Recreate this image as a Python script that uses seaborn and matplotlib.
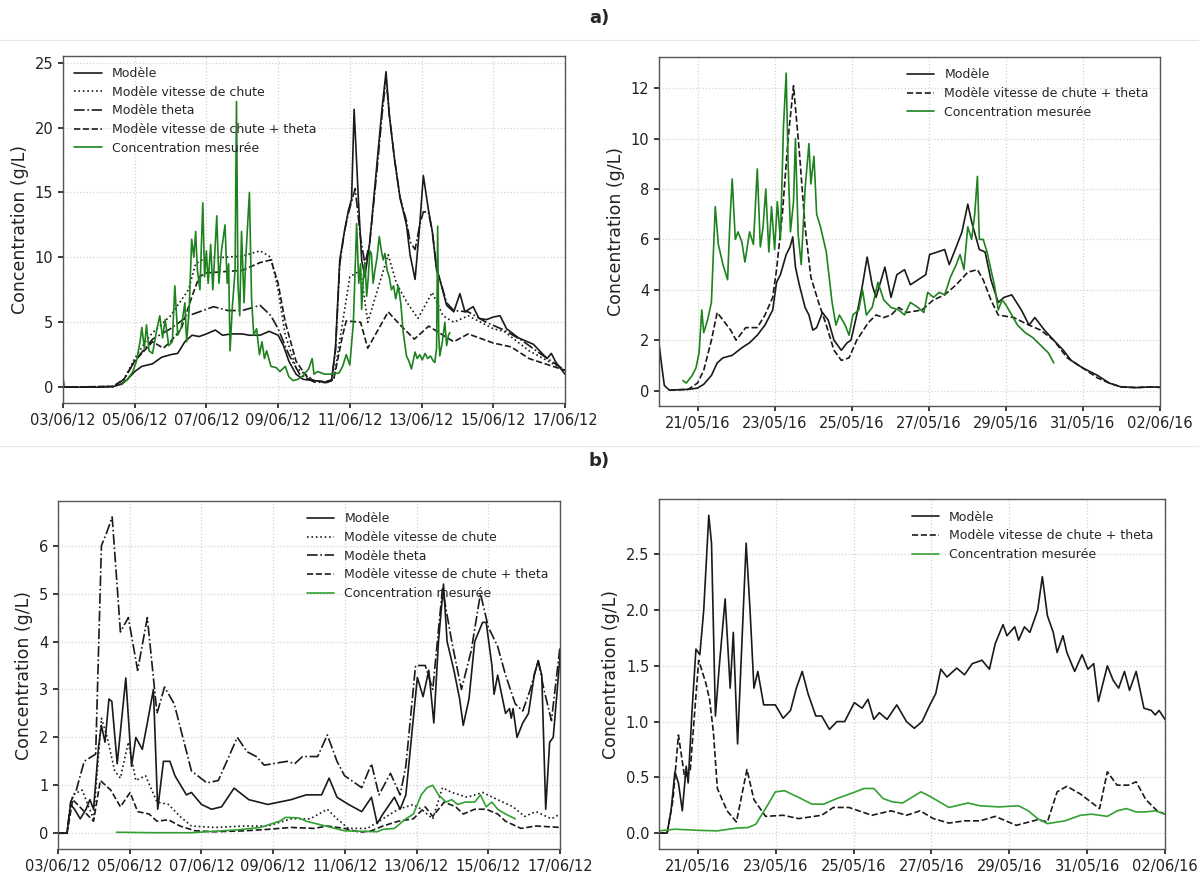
import matplotlib
matplotlib.use("Agg")
import matplotlib.pyplot as plt
import matplotlib.dates as mdates
from matplotlib.lines import Line2D
import pandas as pd
import seaborn as sns

# ---- data (time in days since the first date of each panel, values in g/L) ----
# a) left : 03/06/12 -> 17/06/12
tl_model_t = [0, 0.03, 0.1, 1.0, 1.4, 1.6, 1.8, 2.0, 2.2, 2.5, 2.75, 3.0, 3.2, 3.4, 3.6, 3.8, 4.0, 4.25, 4.45, 4.7,
              5.0, 5.2, 5.5, 5.75, 6.0, 6.15, 6.3, 6.5, 6.7, 7.0, 7.2, 7.35, 7.49, 7.6, 7.72, 7.85, 7.96, 8.05, 8.12, 8.24,
              8.33, 8.42, 8.55, 8.75, 8.9, 9.01, 9.1, 9.25, 9.4, 9.58, 9.68, 9.82, 9.95, 10.05, 10.19, 10.3, 10.42, 10.51,
              10.7, 10.9, 11.07, 11.21, 11.44, 11.6, 11.81, 12.0, 12.19, 12.37, 12.7, 13.12, 13.5, 13.62, 13.75, 14.0]
tl_model_v = [0.8, 0.0, 0.0, 0.0, 0.05, 0.2, 0.6, 1.2, 1.6, 1.8, 2.3, 2.5, 2.6, 3.5, 4.0, 3.9, 4.1, 4.4, 4.0, 4.1,
              4.1, 4.0, 4.0, 4.3, 4.0, 3.2, 2.0, 1.0, 0.6, 0.5, 0.45, 0.35, 0.5, 3.0, 9.8, 12.0, 13.6, 14.5, 21.4, 14.4,
              9.8, 8.5, 11.0, 17.0, 21.5, 24.3, 21.0, 17.5, 14.6, 12.5, 10.2, 8.3, 12.5, 16.3, 13.7, 12.0, 9.0, 8.3,
              6.3, 5.8, 7.2, 5.8, 6.2, 5.3, 5.2, 5.4, 5.5, 4.5, 3.8, 3.3, 2.2, 2.6, 1.9, 1.0]

tl_speed_t = [0, 1.4, 1.7, 2.0, 2.3, 2.5, 3.0, 3.5, 3.7, 4.0, 4.5, 5.0, 5.5, 5.8, 6.0, 6.2, 6.5, 7.0, 7.3, 7.55,
              7.8, 8.0, 8.3, 8.5, 9.07, 9.3, 9.6, 9.9, 10.3, 10.6, 10.9, 11.3, 12.0, 12.3, 13.0, 14.0]
tl_speed_v = [0, 0.05, 0.6, 2.2, 3.5, 4.2, 5.5, 7.5, 9.5, 10.0, 10.0, 10.1, 10.5, 10.0, 7.5, 4.0, 1.5, 0.5, 0.4, 0.6,
              5.0, 8.5, 9.0, 5.0, 10.2, 8.0, 6.5, 5.3, 7.3, 5.5, 5.0, 5.5, 4.5, 4.3, 2.8, 1.3]

tl_theta_t = [0, 1.4, 1.7, 2.0, 2.5, 3.0, 3.5, 4.0, 4.2, 4.6, 5.0, 5.5, 5.8, 6.0, 6.3, 6.6, 7.0, 7.3, 7.49, 7.6,
              7.72, 7.85, 7.96, 8.05, 8.15, 8.3, 8.42, 8.55, 8.75, 8.9, 9.01, 9.1, 9.25, 9.4, 9.58, 9.68, 9.82, 9.95,
              10.05, 10.19, 10.3, 10.42, 10.51, 10.7, 10.9, 11.3, 11.8, 12.3, 12.8, 13.3, 14.0]
tl_theta_v = [0, 0.05, 0.6, 2.0, 3.7, 4.5, 5.5, 6.0, 6.2, 5.9, 5.9, 6.3, 5.5, 4.5, 2.5, 1.0, 0.4, 0.35, 0.5, 2.8,
              9.5, 12.0, 13.4, 14.3, 15.3, 11.5, 9.5, 11.0, 16.5, 21.0, 23.8, 21.0, 17.5, 14.6, 12.8, 11.2, 10.6, 12.5,
              13.5, 13.5, 12.0, 9.2, 8.3, 6.5, 5.9, 5.8, 5.0, 4.4, 3.6, 2.6, 1.3]

tl_both_t = [0, 1.4, 1.7, 2.0, 2.5, 2.8, 3.0, 3.3, 3.6, 3.8, 4.0, 5.0, 5.5, 5.8, 6.0, 6.2, 6.5, 6.8, 7.0, 7.3,
             7.55, 7.8, 7.9, 8.3, 8.5, 9.07, 9.4, 9.8, 10.2, 10.6, 10.9, 11.3, 12.0, 12.5, 13.0, 14.0]
tl_both_v = [0, 0.05, 0.6, 2.0, 3.5, 3.0, 3.5, 4.5, 7.0, 8.5, 8.8, 9.0, 9.6, 9.8, 8.0, 5.0, 2.0, 0.8, 0.5, 0.4,
             0.6, 4.0, 5.1, 5.0, 3.0, 5.8, 4.8, 3.7, 4.7, 4.0, 3.5, 4.1, 3.4, 3.1, 2.2, 1.3]

tl_meas_t = [1.64, 1.8, 1.95, 2.05, 2.15, 2.2, 2.27, 2.33, 2.4, 2.5, 2.6, 2.7, 2.78, 2.85, 2.95, 3.05, 3.12, 3.2,
             3.3, 3.4, 3.45, 3.52, 3.59, 3.65, 3.7, 3.75, 3.82, 3.9, 3.95, 4.0, 4.05, 4.12, 4.18, 4.29, 4.35, 4.42,
             4.52, 4.58, 4.62, 4.66, 4.72, 4.8, 4.84, 4.88, 4.93, 4.98, 5.05, 5.1, 5.2, 5.26, 5.32, 5.4, 5.48, 5.55,
             5.62, 5.68, 5.8, 5.95, 6.05, 6.2, 6.3, 6.42, 6.55, 6.7, 6.85, 6.95, 7.0, 7.1, 7.3, 7.5, 7.7, 7.8, 7.9,
             8.0, 8.1, 8.19, 8.25, 8.3, 8.33, 8.38, 8.42, 8.47, 8.51, 8.56, 8.6, 8.65, 8.7, 8.76, 8.82, 8.88, 8.93,
             8.98, 9.04, 9.1, 9.16, 9.22, 9.28, 9.35, 9.42, 9.49, 9.58, 9.65, 9.72, 9.78, 9.82, 9.88, 9.95, 10.02,
             10.1, 10.17, 10.25, 10.33, 10.37, 10.42, 10.45, 10.48, 10.51, 10.58, 10.65, 10.7, 10.75, 10.79]
tl_meas_v = [0.2, 0.6, 1.2, 2.0, 3.5, 4.6, 3.0, 4.8, 2.8, 2.6, 4.2, 5.5, 3.8, 5.2, 3.2, 3.5, 7.8, 4.0,
             4.6, 6.5, 3.5, 6.0, 11.4, 10.0, 12.0, 9.0, 7.5, 14.2, 8.5, 10.5, 8.0, 11.0, 7.5, 13.2, 8.0, 10.5,
             12.5, 8.0, 9.5, 2.8, 6.0, 9.0, 22.0, 8.0, 5.5, 12.0, 6.5, 10.0, 15.0, 6.8, 4.0, 4.5, 2.5, 3.5,
             2.2, 2.8, 1.6, 1.5, 1.2, 1.6, 0.8, 0.5, 0.6, 0.9, 1.4, 2.2, 1.0, 1.2, 1.0, 1.0, 1.1, 1.6, 2.5,
             1.7, 5.0, 12.6, 8.0, 9.5, 6.0, 8.5, 9.6, 7.0, 8.3, 10.5, 10.3, 8.0, 9.0, 10.0, 11.6, 10.5, 9.8,
             10.3, 9.0, 8.5, 7.5, 7.8, 6.8, 7.8, 6.5, 4.2, 2.4, 2.0, 1.4, 2.2, 2.7, 2.2, 2.5, 2.1,
             2.6, 2.2, 2.4, 2.0, 1.9, 3.0, 12.4, 4.0, 2.4, 3.5, 5.0, 3.2, 4.0, 4.2]

# a) right : 20/05/16 -> 02/06/16
tr_model_t = [0, 0.07, 0.14, 0.27, 0.76, 1.0, 1.16, 1.36, 1.51, 1.66, 1.9, 2.15, 2.35, 2.55, 2.75, 2.95, 3.05, 3.15,
              3.3, 3.4, 3.47, 3.54, 3.64, 3.79, 3.89, 3.99, 4.09, 4.24, 4.39, 4.54, 4.73, 4.88, 4.98, 5.13, 5.28, 5.4,
              5.53, 5.63, 5.86, 6.02, 6.17, 6.37, 6.52, 6.72, 6.92, 7.02, 7.22, 7.41, 7.53, 7.71, 7.86, 8.01, 8.11,
              8.31, 8.46, 8.61, 8.8, 8.95, 9.15, 9.4, 9.6, 9.75, 10.0, 10.24, 10.49, 10.69, 10.99, 11.38, 11.68,
              11.98, 12.38, 12.77, 13.0]
tr_model_v = [1.9, 1.0, 0.2, 0.02, 0.05, 0.1, 0.25, 0.6, 1.1, 1.3, 1.4, 1.7, 1.9, 2.2, 2.6, 3.2, 4.3, 4.6,
              5.4, 5.7, 6.1, 4.9, 4.2, 3.3, 3.0, 2.4, 2.5, 3.1, 2.8, 2.0, 1.6, 1.9, 2.0, 3.0, 4.2, 5.3,
              4.2, 3.7, 4.9, 3.7, 4.6, 4.8, 4.2, 4.4, 4.6, 5.4, 5.5, 5.6, 5.0, 5.7, 6.3, 7.4, 6.7,
              5.6, 5.5, 4.4, 3.5, 3.7, 3.8, 3.2, 2.6, 2.9, 2.4, 2.0, 1.6, 1.2, 0.9, 0.6, 0.3,
              0.15, 0.12, 0.15, 0.13]

tr_both_t = [0.27, 0.76, 1.0, 1.16, 1.36, 1.51, 1.66, 1.86, 2.0, 2.25, 2.55, 2.75, 2.95, 3.05, 3.2, 3.35, 3.49,
             3.64, 3.79, 3.94, 4.14, 4.34, 4.54, 4.73, 4.93, 5.13, 5.43, 5.63, 5.83, 6.02, 6.22, 6.42, 6.82, 7.12,
             7.41, 7.71, 8.01, 8.26, 8.41, 8.61, 8.8, 9.2, 9.6, 9.9, 10.24, 10.59, 10.99, 11.38, 11.68, 11.98,
             12.38, 12.77, 13.0]
tr_both_v = [0.02, 0.05, 0.3, 0.8, 2.0, 3.1, 2.8, 2.4, 2.0, 2.5, 2.5, 3.0, 3.7, 4.8, 7.0, 10.0, 12.1,
             9.5, 6.5, 4.5, 3.5, 2.6, 1.6, 1.2, 1.3, 2.0, 2.7, 3.0, 2.9, 3.0, 3.3, 3.1, 3.2, 3.6,
             3.8, 4.2, 4.7, 4.8, 4.4, 3.6, 3.0, 2.9, 2.6, 2.4, 2.0, 1.3, 0.9, 0.5, 0.3, 0.15,
             0.12, 0.15, 0.13]

tr_meas_t = [0.62, 0.71, 0.86, 0.96, 1.04, 1.11, 1.16, 1.26, 1.36, 1.46, 1.54, 1.66, 1.78, 1.84, 1.9, 1.98, 2.05,
             2.15, 2.23, 2.35, 2.45, 2.55, 2.63, 2.7, 2.77, 2.85, 2.92, 3.0, 3.07, 3.15, 3.23, 3.3, 3.35, 3.41,
             3.49, 3.54, 3.61, 3.69, 3.79, 3.89, 3.94, 4.02, 4.09, 4.19, 4.34, 4.49, 4.59, 4.68, 4.83, 4.93, 5.03,
             5.18, 5.28, 5.38, 5.53, 5.68, 5.83, 6.02, 6.22, 6.37, 6.52, 6.72, 6.87, 6.97, 7.12, 7.27, 7.41, 7.56,
             7.71, 7.81, 7.91, 8.01, 8.11, 8.19, 8.26, 8.31, 8.41, 8.51, 8.61, 8.7, 8.8, 8.9, 9.0, 9.15, 9.3, 9.5,
             9.7, 9.9, 10.1, 10.24]
tr_meas_v = [0.4, 0.3, 0.6, 0.9, 1.5, 3.2, 2.3, 2.8, 3.5, 7.3, 5.8, 5.0, 4.4, 6.7, 8.4, 6.0, 6.3,
             5.9, 5.1, 6.3, 5.8, 8.8, 5.7, 6.5, 8.0, 5.5, 7.3, 5.6, 7.5, 6.0, 10.5, 12.6, 9.0, 6.3,
             7.5, 10.0, 6.2, 5.0, 8.0, 9.8, 8.2, 9.3, 7.0, 6.5, 5.5, 3.5, 2.6, 3.0, 2.6, 2.2, 3.0,
             3.2, 4.0, 3.0, 3.3, 4.3, 3.6, 3.3, 3.2, 3.0, 3.5, 3.3, 3.1, 3.9, 3.7, 3.9, 3.8, 4.5,
             5.0, 5.4, 4.8, 6.5, 6.0, 7.0, 8.5, 6.0, 6.0, 5.5, 4.8, 4.2, 3.2, 3.6, 3.4, 3.0, 2.6, 2.3,
             2.1, 1.8, 1.5, 1.1]

# b) left : 03/06/12 -> 17/06/12
bl_model_t = [0, 0.25, 0.35, 0.46, 0.62, 0.78, 0.89, 0.99, 1.13, 1.21, 1.31, 1.42, 1.5, 1.65, 1.89, 2.05, 2.17, 2.35,
              2.49, 2.66, 2.78, 2.94, 3.12, 3.26, 3.58, 3.72, 4.0, 4.28, 4.56, 4.91, 5.32, 5.85, 6.5, 6.92, 7.35, 7.56,
              7.78, 8.1, 8.47, 8.74, 8.9, 9.06, 9.38, 9.54, 9.7, 10.02, 10.18, 10.34, 10.48, 10.61, 10.75, 10.85,
              11.04, 11.2, 11.3, 11.46, 11.62, 11.84, 11.94, 12.1, 12.16, 12.26, 12.48, 12.59, 12.64, 12.69, 12.8,
              12.96, 13.12, 13.28, 13.39, 13.49, 13.6, 13.71, 13.81, 14.0]
bl_model_v = [0, 0, 0.6, 0.5, 0.3, 0.5, 0.7, 0.5, 1.8, 2.25, 1.9, 2.8, 2.75, 1.45, 3.24, 1.4, 2.0, 1.75,
              2.3, 3.0, 0.5, 1.5, 1.5, 1.2, 0.8, 0.85, 0.6, 0.5, 0.55, 0.94, 0.7, 0.6, 0.7, 0.8, 0.8, 1.15,
              0.75, 0.6, 0.45, 0.75, 0.2, 0.4, 0.75, 0.5, 0.8, 3.25, 2.85, 3.4, 2.3, 4.0, 5.2, 4.0,
              3.4, 2.8, 2.25, 2.8, 4.0, 4.4, 4.4, 3.5, 2.9, 3.3, 2.5, 2.6, 2.4, 2.6, 2.0,
              2.3, 2.5, 3.3, 3.6, 3.3, 0.5, 1.9, 2.0, 3.7]

bl_speed_t = [0, 0.25, 0.41, 0.67, 0.99, 1.21, 1.37, 1.58, 1.74, 1.96, 2.17, 2.44, 2.76, 3.08, 3.4, 3.72, 4.36, 5.21,
              5.85, 6.5, 7.03, 7.51, 7.78, 8.1, 8.63, 8.95, 9.49, 9.91, 10.13, 10.45, 10.72, 10.98, 11.41, 11.84,
              12.26, 12.69, 13.01, 13.33, 13.76, 14.0]
bl_speed_v = [0, 0, 0.8, 0.9, 0.3, 2.4, 2.0, 1.3, 1.15, 1.9, 1.1, 1.2, 0.65, 0.6, 0.35, 0.15, 0.12, 0.15,
              0.15, 0.3, 0.3, 0.5, 0.3, 0.1, 0.1, 0.25, 0.5, 0.6, 0.5, 0.3, 0.95, 0.85, 0.75, 0.85,
              0.7, 0.55, 0.35, 0.45, 0.3, 0.4]

bl_theta_t = [0, 0.25, 0.35, 0.51, 0.73, 0.94, 1.05, 1.21, 1.37, 1.51, 1.74, 1.96, 2.22, 2.49, 2.76, 2.97, 3.24, 3.72,
              4.15, 4.47, 5.0, 5.27, 5.53, 5.75, 6.39, 6.6, 6.82, 7.24, 7.51, 7.78, 7.99, 8.47, 8.74, 8.95, 9.27, 9.54,
              9.7, 9.97, 10.24, 10.45, 10.72, 10.98, 11.25, 11.52, 11.78, 12.0, 12.26, 12.48, 12.75, 12.96, 13.17,
              13.39, 13.55, 13.76, 14.0]
bl_theta_v = [0, 0, 0.65, 0.9, 1.5, 1.6, 1.65, 6.0, 6.3, 6.6, 4.2, 4.5, 3.4, 4.5, 2.5, 3.05, 2.7, 1.3,
              1.05, 1.1, 2.0, 1.7, 1.6, 1.42, 1.5, 1.45, 1.6, 1.6, 2.05, 1.5, 1.2, 0.95, 1.45, 0.8, 1.25, 0.8,
              1.4, 3.5, 3.5, 3.0, 5.1, 4.0, 3.0, 3.8, 5.0, 4.3, 3.9, 3.3, 2.7, 2.55, 3.0,
              3.6, 3.0, 2.35, 3.9]

bl_both_t = [0, 0.25, 0.41, 0.67, 0.99, 1.18, 1.47, 1.74, 2.01, 2.22, 2.54, 2.76, 3.08, 3.4, 3.82, 4.36, 5.21, 5.85,
             6.5, 7.14, 7.51, 7.99, 8.42, 8.74, 9.06, 9.49, 9.91, 10.24, 10.45, 10.77, 11.09, 11.3, 11.62, 11.94,
             12.26, 12.48, 12.91, 13.33, 14.0]
bl_both_v = [0, 0, 0.7, 0.5, 0.25, 1.1, 0.9, 0.55, 0.85, 0.45, 0.4, 0.25, 0.28, 0.15, 0.05, 0.03, 0.05, 0.08,
             0.12, 0.1, 0.15, 0.1, 0.02, 0.05, 0.15, 0.25, 0.3, 0.55, 0.35, 0.65, 0.55, 0.4, 0.5, 0.5,
             0.4, 0.25, 0.1, 0.15, 0.12]

bl_meas_t = [1.63, 2.65, 3.72, 5.0, 5.64, 6.18, 6.34, 6.71, 6.92, 7.46, 7.99, 8.9, 9.06, 9.38, 9.7, 9.91, 10.13,
             10.29, 10.45, 10.61, 10.82, 10.98, 11.14, 11.36, 11.62, 11.78, 11.94, 12.1, 12.26, 12.48, 12.75]
bl_meas_v = [0.02, 0.01, 0.01, 0.07, 0.12, 0.25, 0.33, 0.32, 0.25, 0.15, 0.05, 0.03, 0.08, 0.1, 0.3, 0.4, 0.8,
             0.95, 1.0, 0.8, 0.65, 0.7, 0.6, 0.65, 0.65, 0.8, 0.55, 0.65, 0.5, 0.4, 0.3]

# b) right : 20/05/16 -> 02/06/16
br_model_t = [0, 0.21, 0.31, 0.41, 0.5, 0.6, 0.7, 0.75, 0.85, 0.95, 1.05, 1.15, 1.28, 1.35, 1.45, 1.55, 1.7, 1.83,
              1.91, 2.02, 2.24, 2.34, 2.44, 2.54, 2.69, 2.99, 3.19, 3.38, 3.53, 3.68, 3.83, 4.03, 4.18, 4.38, 4.57,
              4.77, 5.02, 5.22, 5.37, 5.52, 5.66, 5.86, 6.11, 6.36, 6.56, 6.76, 6.96, 7.11, 7.24, 7.4, 7.65, 7.85,
              8.05, 8.3, 8.49, 8.64, 8.84, 8.94, 9.14, 9.24, 9.39, 9.53, 9.73, 9.85, 9.98, 10.13, 10.23, 10.38,
              10.48, 10.68, 10.87, 11.02, 11.17, 11.29, 11.52, 11.67, 11.81, 11.96, 12.09, 12.26, 12.46, 12.65,
              12.75, 12.85, 13.0]
br_model_v = [0.0, 0.0, 0.2, 0.55, 0.45, 0.2, 0.6, 0.45, 1.1, 1.65, 1.6, 2.0, 2.85, 2.6, 1.05, 1.5, 2.1, 1.3,
              1.8, 0.8, 2.6, 2.0, 1.3, 1.45, 1.15, 1.15, 1.03, 1.1, 1.3, 1.45, 1.25, 1.05, 1.05, 0.93, 1.0,
              1.0, 1.17, 1.12, 1.2, 1.02, 1.08, 1.02, 1.15, 1.0, 0.94, 1.0, 1.15, 1.25, 1.47, 1.4, 1.48, 1.42,
              1.52, 1.55, 1.47, 1.7, 1.87, 1.77, 1.85, 1.73, 1.85, 1.8, 2.0, 2.3, 1.95, 1.8, 1.62, 1.77,
              1.62, 1.45, 1.6, 1.47, 1.52, 1.18, 1.5, 1.37, 1.3, 1.45, 1.28, 1.45, 1.12, 1.1,
              1.06, 1.1, 1.02]

br_both_t = [0, 0.21, 0.36, 0.5, 0.66, 0.8, 1.02, 1.2, 1.3, 1.4, 1.5, 1.75, 1.99, 2.26, 2.44, 2.74, 3.19, 3.59,
             4.18, 4.48, 4.88, 5.47, 5.96, 6.36, 6.71, 7.05, 7.45, 7.85, 8.25, 8.64, 9.18, 9.73, 9.98, 10.23,
             10.48, 10.83, 11.32, 11.52, 11.77, 12.06, 12.26, 12.51, 12.8, 13.0]
br_both_v = [0.0, 0.0, 0.3, 0.88, 0.5, 0.55, 1.55, 1.35, 1.2, 0.9, 0.4, 0.2, 0.1, 0.57, 0.3, 0.15, 0.16, 0.13,
             0.16, 0.23, 0.23, 0.16, 0.2, 0.16, 0.2, 0.13, 0.09, 0.11, 0.11, 0.15, 0.07, 0.12, 0.1, 0.37,
             0.42, 0.35, 0.22, 0.55, 0.43, 0.43, 0.46, 0.3, 0.2, 0.17]

br_meas_t = [0, 0.41, 1.0, 1.5, 1.99, 2.29, 2.49, 2.79, 2.99, 3.23, 3.59, 3.93, 4.23, 4.57, 4.97, 5.27, 5.52, 5.76,
             6.0, 6.26, 6.73, 6.96, 7.45, 7.94, 8.25, 8.74, 9.24, 9.49, 9.73, 9.98, 10.43, 10.83, 11.12, 11.52,
             11.77, 12.01, 12.26, 12.51, 12.75, 13.0]
br_meas_v = [0.02, 0.035, 0.025, 0.02, 0.045, 0.05, 0.08, 0.25, 0.37, 0.38, 0.32, 0.26, 0.26, 0.31, 0.36, 0.4,
             0.4, 0.31, 0.28, 0.27, 0.37, 0.33, 0.23, 0.27, 0.245, 0.235, 0.245, 0.2, 0.13, 0.085, 0.11, 0.16,
             0.17, 0.15, 0.2, 0.22, 0.19, 0.19, 0.2, 0.17]

lbl_model = "Modèle"
lbl_speed = "Modèle vitesse de chute"
lbl_theta = "Modèle theta"
lbl_both = "Modèle vitesse de chute + theta"
lbl_meas = "Concentration mesurée"


def to_dates(start, days):
    return pd.Timestamp(start) + pd.to_timedelta(days, unit="D")


sns.set_theme(style="whitegrid", rc={
    "grid.linestyle": ":", "grid.color": "#d4d4d4", "grid.linewidth": 0.9,
    "axes.edgecolor": "#555555", "axes.linewidth": 1.0,
    "xtick.bottom": True, "ytick.left": True,
    "xtick.major.size": 3.5, "ytick.major.size": 3.5,
    "xtick.color": "#222222", "ytick.color": "#222222",
    "xtick.labelsize": 10.5, "ytick.labelsize": 10.5,
})
plt.rcParams["font.family"] = ["DejaVu Sans"]

fig = plt.figure(figsize=(11.99, 8.74), dpi=100)

panels = [
    # (rect, start, end, model series, measured series, green, legend position)
    ([0.0525, 0.539, 0.4187, 0.397], "2012-06-03", "2012-06-17",
     [(tl_model_t, tl_model_v, "-", lbl_model), (tl_speed_t, tl_speed_v, ":", lbl_speed),
      (tl_theta_t, tl_theta_v, "-.", lbl_theta), (tl_both_t, tl_both_v, "--", lbl_both)],
     (tl_meas_t, tl_meas_v), "#1e821e", "upper left"),
    ([0.5496, 0.5355, 0.418, 0.399], "2016-05-20", "2016-06-02",
     [(tr_model_t, tr_model_v, "-", lbl_model), (tr_both_t, tr_both_v, "--", lbl_both)],
     (tr_meas_t, tr_meas_v), "#1e821e", "upper right"),
    ([0.0484, 0.0286, 0.4187, 0.398], "2012-06-03", "2012-06-17",
     [(bl_model_t, bl_model_v, "-", lbl_model), (bl_speed_t, bl_speed_v, ":", lbl_speed),
      (bl_theta_t, bl_theta_v, "-.", lbl_theta), (bl_both_t, bl_both_v, "--", lbl_both)],
     (bl_meas_t, bl_meas_v), "#33a033", "upper right"),
    ([0.5496, 0.0286, 0.422, 0.4], "2016-05-20", "2016-06-02",
     [(br_model_t, br_model_v, "-", lbl_model), (br_both_t, br_both_v, "--", lbl_both)],
     (br_meas_t, br_meas_v), "#33a033", "upper right"),
]

for rect, start, end, series, meas, green, leg_loc in panels:
    ax = fig.add_axes(rect)
    for t, v, ls, lbl in series:
        sns.lineplot(x=to_dates(start, t), y=v, ax=ax, color="#1a1a1a", linestyle=ls, lw=1.2, label=lbl)
    sns.lineplot(x=to_dates(start, meas[0]), y=meas[1], ax=ax, color=green, lw=1.2, label=lbl_meas)

    # tick every two days, ending on the last date
    ticks = pd.date_range(end=end, periods=7 if start.startswith("2016") else 8, freq="2D")
    ax.set_xlim(pd.Timestamp(start), pd.Timestamp(end))
    ax.set_xticks(ticks)
    ax.xaxis.set_major_formatter(mdates.DateFormatter("%d/%m/%y"))
    ax.set_xlabel("")
    ax.set_ylabel("Concentration (g/L)", fontsize=12.5, color="#222222")
    ax.legend(loc=leg_loc, frameon=False, fontsize=9, labelspacing=0.45, handlelength=2.2)

fig.text(0.5, 1 - 18 / 874, "a)", ha="center", va="center", fontsize=13, fontweight="bold")
fig.text(0.5, 1 - 461 / 874, "b)", ha="center", va="center", fontsize=13, fontweight="bold")
for y in (1 - 40 / 874, 1 - 446 / 874):
    fig.add_artist(Line2D([0, 1], [y, y], transform=fig.transFigure, color="#e8e8e8", lw=0.8))

fig.savefig("out.png", dpi=100)
